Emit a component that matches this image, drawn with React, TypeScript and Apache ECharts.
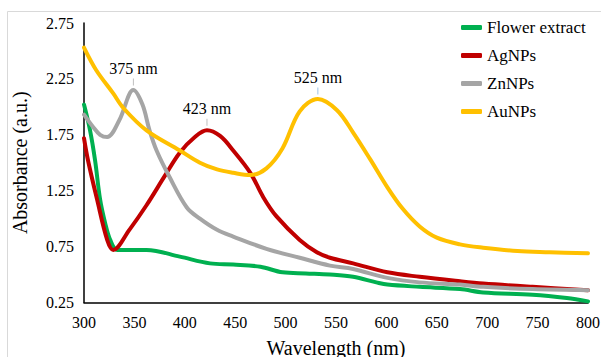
import React, { useEffect, useRef } from "react";
import * as echarts from "echarts";

const seriesNames = ["Flower extract", "AgNPs", "ZnNPs", "AuNPs"];
const seriesColors = ["#00B050", "#C00000", "#A5A5A5", "#FFC000"];

const flowerWl = [300, 306, 311, 316, 321, 326, 333, 345, 362, 395, 425, 448, 475, 497, 520, 544, 567, 590, 601, 633, 673, 696, 745, 779, 800];
const flowerAbs = [2.02, 1.79, 1.52, 1.17, 0.96, 0.81, 0.72, 0.72, 0.72, 0.66, 0.6, 0.59, 0.57, 0.52, 0.51, 0.5, 0.48, 0.43, 0.41, 0.39, 0.37, 0.34, 0.32, 0.29, 0.26];

const agWl = [300, 304, 313, 323, 329, 345, 362, 380, 395, 410, 422, 435, 448, 465, 478, 491, 514, 531, 544, 567, 601, 633, 673, 696, 745, 800];
const agAbs = [1.72, 1.52, 1.17, 0.81, 0.72, 0.9, 1.12, 1.38, 1.59, 1.73, 1.79, 1.74, 1.61, 1.41, 1.19, 1.02, 0.81, 0.7, 0.65, 0.6, 0.52, 0.48, 0.44, 0.42, 0.39, 0.36];

const znWl = [300, 309, 316, 323, 335, 349, 358, 365, 372, 385, 402, 415, 432, 448, 481, 514, 544, 567, 601, 633, 673, 696, 745, 800];
const znAbs = [1.93, 1.82, 1.75, 1.73, 1.88, 2.15, 2.02, 1.79, 1.61, 1.37, 1.1, 1.0, 0.9, 0.84, 0.73, 0.65, 0.58, 0.55, 0.47, 0.43, 0.41, 0.39, 0.37, 0.36];

const auWl = [300, 312, 329, 339, 362, 395, 415, 432, 448, 465, 481, 497, 514, 532, 551, 567, 584, 601, 616, 633, 650, 673, 696, 730, 762, 800];
const auAbs = [2.53, 2.33, 2.12, 1.99, 1.79, 1.61, 1.5, 1.44, 1.41, 1.39, 1.45, 1.63, 1.96, 2.07, 1.97, 1.77, 1.53, 1.28, 1.09, 0.93, 0.83, 0.77, 0.74, 0.71, 0.7, 0.69];

const peakLabels = ["", "423 nm", "375 nm", "525 nm"];
const peakWl = [0, 422, 349, 532];
const peakAbs = [0, 1.79, 2.15, 2.07];

const xTicks = { min: 300, max: 800, interval: 50 };
const yTicks = { min: 0.25, max: 2.75, interval: 0.25 };

const FONT = "Liberation Serif";

export default function App() {
  const ref = useRef<HTMLDivElement>(null);
  useEffect(() => {
    if (!ref.current) return;
    const chart = echarts.init(ref.current, undefined, { renderer: "svg" });
    const wls = [flowerWl, agWl, znWl, auWl];
    const abs = [flowerAbs, agAbs, znAbs, auAbs];
    const series = seriesNames.map((name, i) => ({
      name,
      type: "line",
      smooth: 0.35,
      symbol: "none",
      data: wls[i].map((w, j) => [w, abs[i][j]]),
      lineStyle: { color: seriesColors[i], width: 4, cap: "round", join: "round" },
      itemStyle: { color: seriesColors[i] },
      markPoint: peakLabels[i]
        ? {
            symbol: "rect",
            symbolSize: [1, 7],
            symbolOffset: [0, -8],
            itemStyle: { color: i === 3 ? "#9DC3E6" : "#BFBFBF" },
            label: {
              show: true,
              position: "top",
              distance: 2,
              formatter: peakLabels[i],
              color: "#000",
              fontSize: 16,
              fontFamily: FONT,
            },
            data: [{ coord: [peakWl[i], peakAbs[i]] }],
          }
        : undefined,
    }));
    chart.setOption({
      animation: false,
      backgroundColor: "#fff",
      textStyle: { fontFamily: FONT },
      grid: { left: 84, right: 13, top: 23, bottom: 54.5, outerBoundsMode: "none", containLabel: false },
      graphic: [
        {
          type: "rect",
          shape: { x: 7.5, y: 11.5, width: 700, height: 400 },
          style: { fill: "none", stroke: "#D9D9D9", lineWidth: 1 },
          silent: true,
          z: -10,
        },
      ],
      legend: {
        orient: "vertical",
        left: 456,
        top: 14,
        itemGap: 11,
        itemWidth: 21,
        itemHeight: 5,
        icon: "roundRect",
        textStyle: { fontSize: 17, color: "#000", fontFamily: FONT },
        data: seriesNames,
      },
      xAxis: {
        type: "value",
        min: xTicks.min,
        max: xTicks.max,
        interval: xTicks.interval,
        name: "Wavelength (nm)",
        nameLocation: "middle",
        nameGap: 35,
        nameTextStyle: { fontSize: 20, color: "#000", fontFamily: FONT },
        axisLine: { lineStyle: { color: "#000", width: 1.5 } },
        axisTick: { show: false },
        splitLine: { show: false },
        axisLabel: { fontSize: 16, color: "#000", margin: 12, fontFamily: FONT },
      },
      yAxis: {
        type: "value",
        min: yTicks.min,
        max: yTicks.max,
        interval: yTicks.interval,
        name: "Absorbance (a.u.)",
        nameLocation: "middle",
        nameGap: 54,
        nameTextStyle: { fontSize: 20, color: "#000", fontFamily: FONT },
        axisLine: { show: true, lineStyle: { color: "#000", width: 1.5 } },
        axisTick: { show: false },
        splitLine: { show: false },
        axisLabel: {
          fontSize: 16,
          color: "#000",
          margin: 10,
          fontFamily: FONT,
          formatter: (v: number) => (Math.round(v * 100) % 50 === 25 ? v.toFixed(2) : ""),
        },
      },
      series,
    });
    return () => chart.dispose();
  }, []);
  return (
    <div
      ref={ref}
      style={{ position: "fixed", left: 0, top: 0, width: 601, height: 357 }}
    />
  );
}
